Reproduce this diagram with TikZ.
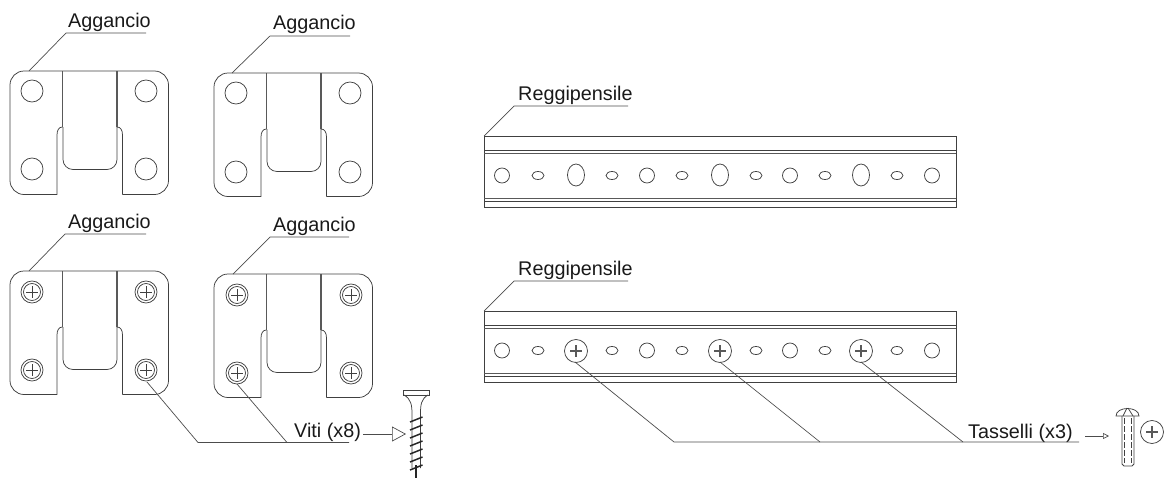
\documentclass[tikz,border=0pt]{standalone}
\usepackage{fontspec}
\setmainfont{Liberation Sans}
\usetikzlibrary{arrows.meta}

\tikzset{
    part/.style={draw=black!75,line width=0.75pt},
    heavy/.style={draw=black!65,line width=1.4pt},
    leader/.style={draw=black!70,line width=0.7pt},
    tag/.style={inner sep=0pt,anchor=base west,font=\fontsize{19.8}{22}\selectfont,text=black!90},
    plate/.pic={
        \draw[part,rounded corners=14pt] (47,123.5) -- (0,123.5) -- (0,0) -- (158.5,0) -- (158.5,123.5) -- (112.5,123.5);
        \draw[part] (47,123.5) -- (47,64) .. controls (47,59) and (49,56) .. (52.5,56);
        \draw[part] (112.5,123.5) -- (112.5,64) .. controls (112.5,59) and (110.5,56) .. (107,56);
        \draw[part,rounded corners=10pt] (53,56) -- (53,98.5) -- (107,98.5) -- (107,56);
        \draw[heavy] (52.5,0) -- (52.5,56);
        \draw[heavy] (107,0) -- (107,56);
    },
    screwhead/.pic={
        \draw[part] (0,0) circle (11pt);
        \draw[part] (0,0) circle (8.5pt);
        \draw[part] (-6,0) -- (6,0);
        \draw[part] (0,-6) -- (0,6);
    },
    boltcross/.pic={
        \draw[part] (0,0) circle (11.5pt);
        \draw[heavy] (-6,0) -- (6,0);
        \draw[heavy] (0,-6) -- (0,6);
    },
}

\begin{document}
\begin{tikzpicture}[x=1pt,y=-1pt]
    \useasboundingbox (0,0) rectangle (1164,477);

    % Plates
    \pic at (10,71) {plate};
    \pic at (214,73) {plate};
    \pic at (10,271) {plate};
    \pic at (214,274) {plate};

    % Plain holes
    \foreach \x/\y in {32/91,146/91,32/169,146/169,236/93,350/93,236/172,350/172}{
        \draw[part] (\x,\y) circle (11pt);
    }

    % Fitted screws
    \foreach \x/\y in {32/292,146/292,32/370,146/370,237/295,351/295,237/373,351/373}{
        \pic at (\x,\y) {screwhead};
    }

    % Rails
    \foreach \top in {136,311}{
        \draw[part] (484,\top) rectangle (956,\top+71.5);
        \draw[part] (484,\top+14.5) -- (956,\top+14.5);
        \draw[heavy,line width=1pt] (484,\top+17.5) -- (956,\top+17.5);
        \draw[heavy,line width=1pt] (484,\top+62.5) -- (956,\top+62.5);
        \draw[part] (484,\top+65) -- (956,\top+65);
        \foreach \x in {502,647,790,932}{
            \draw[part] (\x,\top+39.5) circle (7.5pt);
        }
        \foreach \x in {538,612,682,756,825,897}{
            \draw[part] (\x,\top+39.5) ellipse (6pt and 4pt);
        }
    }
    \foreach \x in {576,720,861}{
        \draw[part] (\x,175) ellipse (8.5pt and 11pt);
        \pic at (\x,351) {boltcross};
    }

    % Labels
    \node[tag] (lblone) at (68,27) {Aggancio};
    \node[tag] (lbltwo) at (273,29) {Aggancio};
    \node[tag] (lblthree) at (68,228) {Aggancio};
    \node[tag] (lblfour) at (273,231) {Aggancio};
    \node[tag] (lblrail) at (518,100.5) {Reggipensile};
    \node[tag] (lblrailb) at (518,275) {Reggipensile};
    \node[tag] (lblviti) at (294,437) {Viti (x8)};
    \node[tag] (lbltass) at (968,438.5) {Tasselli (x3)};

    % Leaders to the plates and rails
    \foreach \a/\b/\c/\d/\e in {29/71/66/33/146,232/73/270/36/350,29/271/65/234/146,233/274/270/237/349,484/136/514/106/628,484/311/514/281/628}{
        \coordinate (from) at (\a,\b);
        \coordinate (knee) at (\c,\d);
        \coordinate (stop) at (\e,\d);
        \draw[leader] (from) -- (knee) -- (stop);
    }

    % Leaders to the screws
    \coordinate (vitia) at (198,442.5);
    \coordinate (vitib) at (287,442.5);
    \coordinate (vitic) at (349,442.5);
    \coordinate (scra) at (147,382);
    \coordinate (scrb) at (237,384);
    \draw[leader] (scra) -- (vitia) -- (vitic);
    \draw[leader] (scrb) -- (vitib);

    % Leaders to the bolts
    \coordinate (tasa) at (674,442);
    \coordinate (tasb) at (820,442);
    \coordinate (tasc) at (963,442);
    \coordinate (tasd) at (1079,442);
    \coordinate (bolta) at (575,362);
    \coordinate (boltb) at (720,362);
    \coordinate (boltc) at (861,362);
    \draw[leader] (bolta) -- (tasa) -- (tasd);
    \draw[leader] (boltb) -- (tasb);
    \draw[leader] (boltc) -- (tasc);

    % Arrows
    \coordinate (vitistart) at (363,434);
    \coordinate (vitiend) at (406,434);
    \draw[leader,-{Triangle[open,length=14pt,width=15pt]}] (vitistart) -- (vitiend);
    \coordinate (tasstart) at (1085,436);
    \coordinate (tasend) at (1109,436);
    \draw[leader,-{Triangle[open,length=6pt,width=6pt]}] (tasstart) -- (tasend);

    % Wood screw
    \draw[part] (403,390) -- (429,390) -- (429,395) -- (403,395) -- cycle;
    \draw[part] (404,395) .. controls (411,399) and (412,405) .. (412,414) -- (412,468);
    \draw[part] (428,395) .. controls (421,399) and (420.5,405) .. (420.5,414) -- (420.5,468);
    \foreach \y in {420,428,436,444,452,460,468}{
        \draw[draw=black!85,line width=1.5pt] (410,\y+2) -- (422.5,\y-3);
    }
    \draw[draw=black!85,line width=1.2pt] (416,465) -- (416,479);

    % Machine screw
    \draw[part] (1116,416) .. controls (1116,406) and (1139,406) .. (1139,416) -- cycle;
    \draw[part] (1127,408) -- (1123,416);
    \draw[part] (1128,408) -- (1133,416);
    \draw[part] (1122,416) -- (1122,464) -- (1124,466) -- (1132,466) -- (1134,464) -- (1134,416);
    \draw[part,dashed,dash pattern=on 6pt off 2pt] (1124.5,418) -- (1124.5,463);
    \draw[part,dashed,dash pattern=on 6pt off 2pt] (1131.5,418) -- (1131.5,463);
    \pic at (1152,432) {boltcross};
\end{tikzpicture}
\end{document}
